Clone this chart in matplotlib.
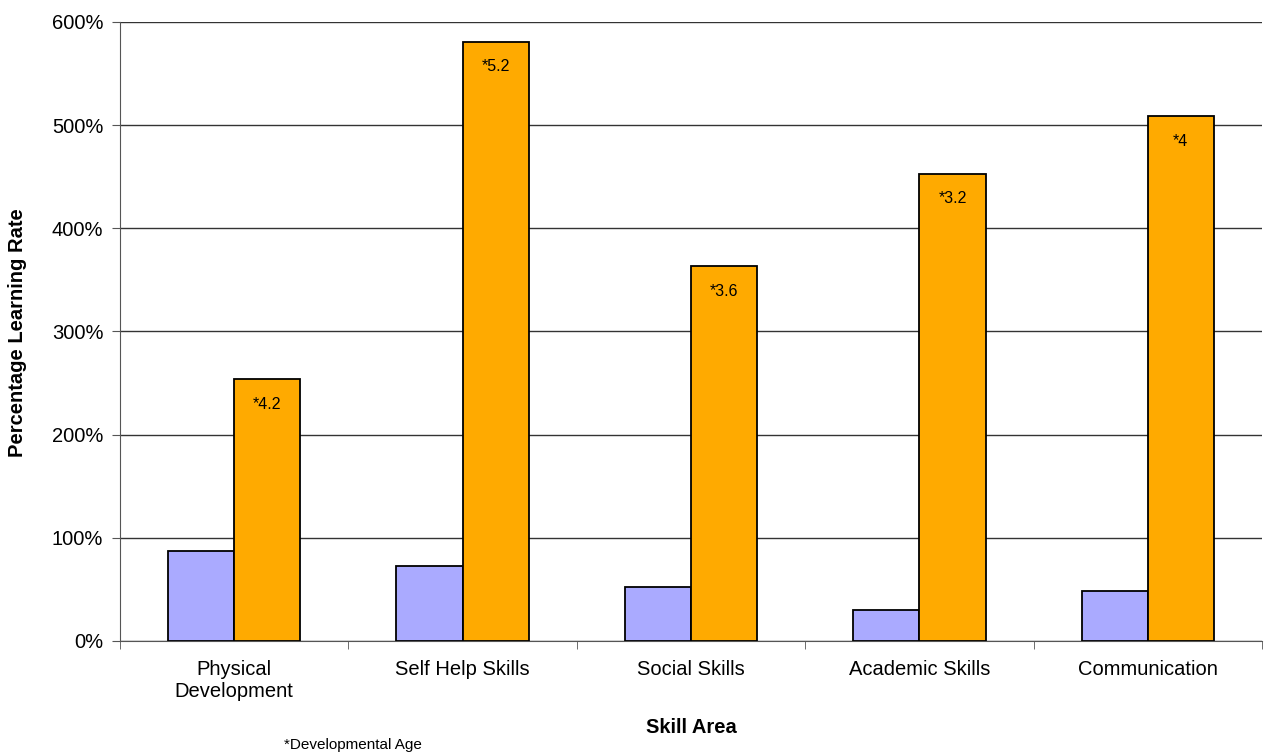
import numpy as np
import matplotlib.pyplot as plt
from matplotlib.ticker import FuncFormatter

plt.rcParams['font.family'] = ['Liberation Sans', 'DejaVu Sans']

# Dados
areas = ["Physical\nDevelopment", "Self Help Skills", "Social Skills",
         "Academic Skills", "Communication"]
taxa_azul = [87.5, 72.8, 52.5, 30.1, 48.5]
taxa_laranja = [253.5, 580.9, 363.0, 453.0, 508.7]
idade_dev = ["*4.2", "*5.2", "*3.6", "*3.2", "*4"]

fig = plt.figure(figsize=(12.66, 7.55), dpi=100)
ax = fig.add_axes([0.0948, 0.151, 0.902, 0.820])

x = np.arange(len(areas))
largura = 0.29
ax.bar(x - largura / 2, taxa_azul, largura, color="#AAAAFF",
       edgecolor="black", linewidth=1.3, zorder=3)
barras = ax.bar(x + largura / 2, taxa_laranja, largura, color="#FFAA00",
                edgecolor="black", linewidth=1.3, zorder=3)

# Rótulos da idade de desenvolvimento dentro das barras laranja
for b, txt in zip(barras, idade_dev):
    ax.annotate(txt, (b.get_x() + b.get_width() / 2, b.get_height()),
                xytext=(0, -18), textcoords="offset points",
                ha="center", va="center", fontsize=11.5, zorder=4)

ax.set_xlim(-0.5, len(areas) - 0.5)
ax.set_ylim(0, 600)
ax.set_yticks(np.arange(0, 601, 100))
ax.yaxis.set_major_formatter(FuncFormatter(lambda v, p: f"{v:.0f}%"))
ax.yaxis.grid(True, color="#333333", linewidth=1.0, zorder=0)

ax.set_xticks(x)
ax.set_xticklabels(areas, fontsize=14.5)
ax.set_xticks(np.arange(-0.5, len(areas)), minor=True)
ax.tick_params(axis="x", which="major", length=0, pad=14)
ax.tick_params(axis="x", which="minor", length=6, color="#555555")
ax.tick_params(axis="y", labelsize=14.5, length=6, color="#555555", pad=6)

for lado in ["top", "right"]:
    ax.spines[lado].set_visible(False)
ax.spines["left"].set_color("#555555")
ax.spines["bottom"].set_color("#555555")

ax.set_xlabel("Skill Area", fontsize=14.5, fontweight="bold", labelpad=12)
fig.text(0.014, 0.56, "Percentage Learning Rate", rotation=90, ha="center",
         va="center", fontsize=14.5, fontweight="bold")
fig.text(0.279, 0.013, "*Developmental Age", ha="center", va="center",
         fontsize=11)

fig.savefig("out.png", dpi=100)
